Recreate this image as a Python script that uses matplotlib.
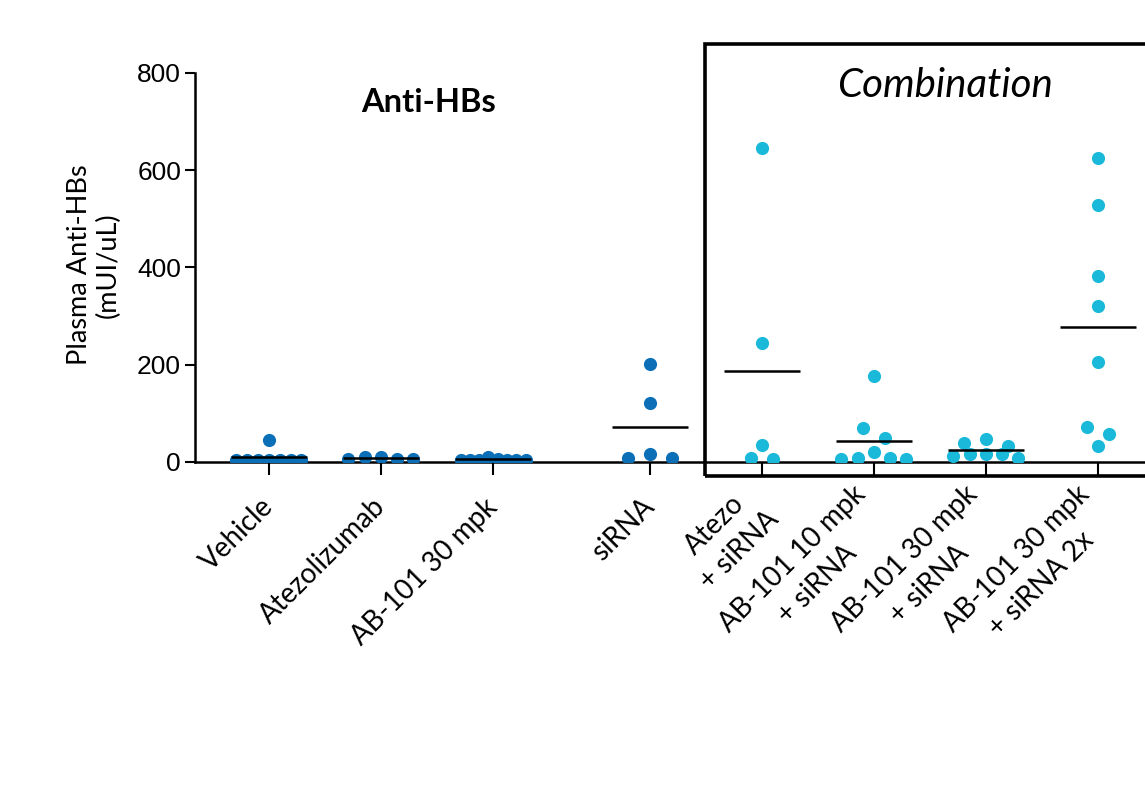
import numpy as np
import matplotlib
matplotlib.use('Agg')
import matplotlib.pyplot as plt
from matplotlib.patches import Rectangle

# Plasma Anti-HBs (mUI/uL), one value per animal
groups = ['Vehicle', 'Atezolizumab', 'AB-101 30 mpk', 'siRNA',
          'Atezo\n+ siRNA', 'AB-101 10 mpk\n+ siRNA',
          'AB-101 30 mpk\n+ siRNA', 'AB-101 30 mpk\n+ siRNA 2x']

vehicle = [5, 5, 5, 5, 5, 5, 5, 45]
atezolizumab = [6, 10, 6, 10, 6]
ab101_30 = [4, 10, 6, 5, 5, 5, 4, 4]
sirna = [202, 121, 16, 8, 8]
atezo_sirna = [646, 245, 35, 6, 8]
ab101_10_sirna = [177, 70, 49, 21, 6, 8, 8, 6]
ab101_30_sirna = [40, 47, 33, 12, 16, 16, 16, 9]
ab101_30_sirna_2x = [626, 529, 383, 321, 206, 71, 58, 33]

values = [vehicle, atezolizumab, ab101_30, sirna,
          atezo_sirna, ab101_10_sirna, ab101_30_sirna, ab101_30_sirna_2x]

single_color = '#0b6fb8'
combo_color = '#1bb9d9'
n_single = 4


def swarm_offsets(ax, x0, vals, diam=22, max_width=65, band=11):
    """
    GraphPad-like scatter: points close in y share a row, rows are centred,
    bigger values go nearer the middle of the row.
    """
    vals = np.asarray(vals, float)
    pts = ax.transData.transform(np.column_stack([np.full(len(vals), x0), vals]))
    ypix = pts[:, 1]
    px_per_x = ax.transData.transform([[1, 0]])[0, 0] - ax.transData.transform([[0, 0]])[0, 0]

    rows = []
    for i in np.argsort(vals, kind='stable'):
        if rows and abs(ypix[i] - ypix[rows[-1][0]]) < band:
            rows[-1].append(i)
        else:
            rows.append([i])

    offs = np.zeros(len(vals))
    for row in rows:
        n = len(row)
        if n < 2:
            continue
        step = min(diam, max_width / (n - 1))
        slots = sorted(range(n), key=lambda k: (abs(k - (n - 1) / 2), k))
        row = sorted(row, key=lambda j: -vals[j])
        for k, i in zip(slots, row):
            offs[i] = (k - (n - 1) / 2) * step / px_per_x
    return offs


fig = plt.figure(figsize=(11.45, 7.98), dpi=100)
ax = fig.add_axes([0.1703, 0.4211, 0.8767, 0.4875])

ax.set_xlim(-0.66, 8.3)
ax.set_ylim(0, 800)

# small gap between the single agents and siRNA
positions = [i + (0.4 if i >= 3 else 0) for i in range(len(groups))]

for i, (x, v) in enumerate(zip(positions, values)):
    color = single_color if i < n_single else combo_color
    offs = swarm_offsets(ax, x, v)
    ax.scatter(x + offs, v, s=90, color=color, linewidths=0, zorder=3)
    m = np.mean(v)
    ax.plot([x - 0.34, x + 0.34], [m, m], color='black', lw=1.8, zorder=4,
            solid_capstyle='butt')

for side in ('top', 'right'):
    ax.spines[side].set_visible(False)
for side in ('left', 'bottom'):
    ax.spines[side].set_linewidth(1.8)

ax.set_yticks([0, 200, 400, 600, 800])
ax.tick_params(axis='y', length=7, width=1.5, labelsize=19, pad=3)
ax.tick_params(axis='x', length=9.4, width=1.5, pad=20)
for lbl in ax.get_yticklabels():
    lbl.set_fontfamily('Liberation Sans')

ax.set_xticks(positions)
ax.set_xticklabels(groups, rotation=45, ha='right', va='center',
                   rotation_mode='anchor', fontsize=20, family='Lato',
                   multialignment='center', linespacing=1.45)

fig.text(0.082, 0.668, 'Plasma Anti-HBs\n(mUI/uL)', rotation=90,
         ha='center', va='center', fontsize=19.5, family='Lato',
         multialignment='center', linespacing=1.15)

fig.text(0.3747, 0.872, 'Anti-HBs', ha='center', va='center',
         fontsize=23.5, fontweight='bold', family='Lato')

# combination box runs off the right edge
fig.add_artist(Rectangle((0.6157, 0.4035), 0.45, 0.5414, transform=fig.transFigure,
                         fill=False, lw=2.6, edgecolor='black', clip_on=False))
fig.text(0.8253, 0.893, 'Combination', ha='center', va='center',
         fontsize=29, fontstyle='italic', family='Lato')

fig.savefig('out.png', dpi=100)
